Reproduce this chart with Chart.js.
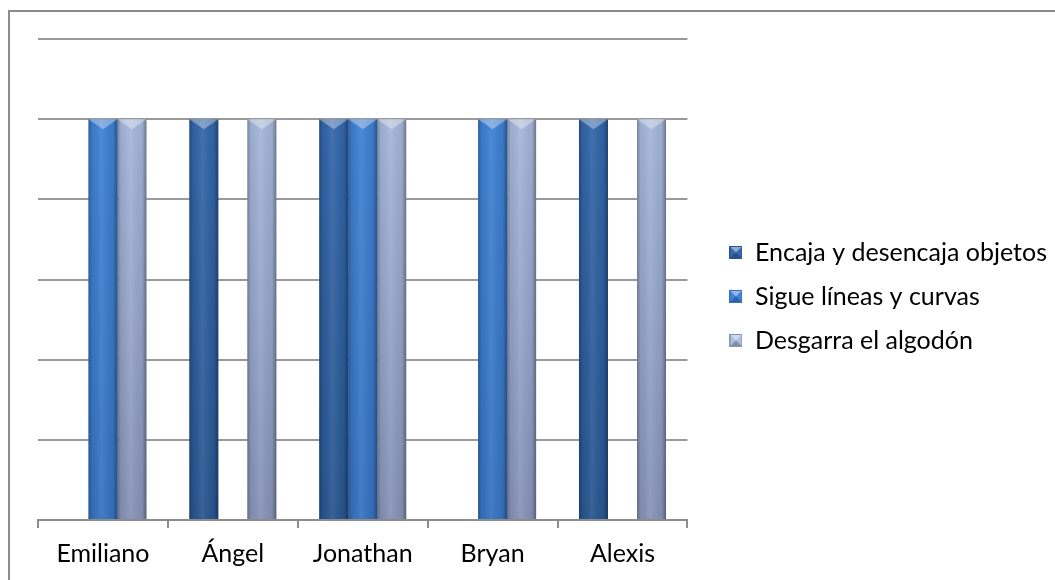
<!DOCTYPE html>
<html>
<head>
<meta charset="utf-8">
<script src="https://cdn.jsdelivr.net/npm/chart.js@4/dist/chart.umd.min.js"></script>
<style>
  html, body { margin: 0; padding: 0; background: #fff; overflow: hidden; }
  #wrap { position: relative; width: 1055px; height: 580px; }
  #frame { position: absolute; left: 8px; top: 10px; width: 1200px; height: 700px; border: 2px solid #8c8c8c; box-sizing: border-box; }
  #chart { position: absolute; left: 0; top: 0; }
</style>
</head>
<body>
<div id="wrap">
  <div id="frame"></div>
  <canvas id="chart" width="1055" height="580"></canvas>
</div>
<script>
// data
var alumnos = ["Emiliano", "Ángel", "Jonathan", "Bryan", "Alexis"];
var encaja = [0, 1, 1, 0, 1];
var sigue = [1, 0, 1, 1, 0];
var desgarra = [1, 1, 1, 1, 1];
var serieNames = ["Encaja y desencaja objetos", "Sigue líneas y curvas", "Desgarra el algodón"];

// top / bottom colours of each series
var tonos = [
  ["#3468ae", "#27558f"],
  ["#3f82d6", "#3571bf"],
  ["#abbde0", "#8591b6"]
];

function fill(i) {
  return function(ctx) {
    var area = ctx.chart.chartArea;
    if (!area) return tonos[i][0];
    var g = ctx.chart.ctx.createLinearGradient(0, area.top, 0, area.bottom);
    g.addColorStop(0, tonos[i][0]);
    g.addColorStop(1, tonos[i][1]);
    return g;
  };
}

function marker(i) {
  // small bevelled square for the legend
  var c = document.createElement("canvas");
  c.width = 13; c.height = 13;
  var x = c.getContext("2d");
  x.fillStyle = tonos[i][1];
  x.fillRect(0, 0, 13, 13);
  x.fillStyle = tonos[i][0];
  x.fillRect(1, 1, 11, 11);
  x.fillStyle = "rgba(255,255,255,0.45)";
  x.beginPath(); x.moveTo(1, 1); x.lineTo(12, 1); x.lineTo(6.5, 6.5); x.closePath(); x.fill();
  x.fillStyle = "rgba(0,0,0,0.25)";
  x.beginPath(); x.moveTo(1, 12); x.lineTo(12, 12); x.lineTo(6.5, 6.5); x.closePath(); x.fill();
  return c;
}

// cylinder-ish shading drawn over each bar
var shading = {
  id: "shading",
  afterDatasetsDraw: function(chart) {
    var ctx = chart.ctx;
    chart.data.datasets.forEach(function(ds, di) {
      chart.getDatasetMeta(di).data.forEach(function(bar) {
        var p = bar.getProps(["x", "y", "base", "width"], true);
        var h = p.base - p.y;
        if (h <= 1) return;
        var l = p.x - p.width / 2, r = p.x + p.width / 2;
        ctx.save();
        var g = ctx.createLinearGradient(l, 0, r, 0);
        g.addColorStop(0, "rgba(0,0,0,0.28)");
        g.addColorStop(0.12, "rgba(0,0,0,0.05)");
        g.addColorStop(0.45, "rgba(255,255,255,0.08)");
        g.addColorStop(0.85, "rgba(0,0,0,0.05)");
        g.addColorStop(1, "rgba(0,0,0,0.35)");
        ctx.fillStyle = g;
        ctx.fillRect(l, p.y, p.width, h);
        ctx.fillStyle = "rgba(255,255,255,0.35)";
        ctx.beginPath();
        ctx.moveTo(l, p.y); ctx.lineTo(r, p.y); ctx.lineTo(p.x, p.y + 10);
        ctx.closePath(); ctx.fill();
        ctx.restore();
      });
    });
  }
};

// legend sits a bit further right and higher than chart.js puts it
var legendNudge = {
  id: "legendNudge",
  afterLayout: function(chart) {
    var lg = chart.legend;
    lg.left += 23; lg.right += 23;
    lg.top -= 13; lg.bottom -= 13;
  }
};

var series = [encaja, sigue, desgarra];
new Chart(document.getElementById("chart"), {
  type: "bar",
  data: {
    labels: alumnos,
    datasets: series.map(function(vals, i) {
      return {
        label: serieNames[i],
        data: vals,
        backgroundColor: fill(i),
        borderWidth: 0,
        categoryPercentage: 0.67,
        barPercentage: 1.0,
        pointStyle: marker(i)
      };
    })
  },
  plugins: [shading, legendNudge],
  options: {
    responsive: false,
    animation: false,
    layout: { padding: { left: 38, top: 39, right: 21, bottom: 0 } },
    plugins: {
      tooltip: { enabled: false },
      legend: {
        position: "right",
        align: "center",
        maxWidth: 420,
        labels: {
          usePointStyle: true,
          boxWidth: 13,
          color: "#000",
          padding: 19,
          font: { family: "Lato", size: 25 }
        }
      }
    },
    scales: {
      x: {
        grid: { display: true, offset: true, drawOnChartArea: false, drawTicks: true, tickLength: 8, color: "#8c8c8c", lineWidth: 2 },
        border: { display: true, color: "#8c8c8c", width: 2 },
        ticks: { color: "#000", padding: 11, font: { family: "Lato", size: 25 } }
      },
      y: {
        min: 0,
        max: 1.2,
        ticks: { display: false, stepSize: 0.2 },
        grid: { drawTicks: false, color: "#9a9a9a", lineWidth: 2 },
        border: { display: false }
      }
    }
  }
});
</script>
</body>
</html>
